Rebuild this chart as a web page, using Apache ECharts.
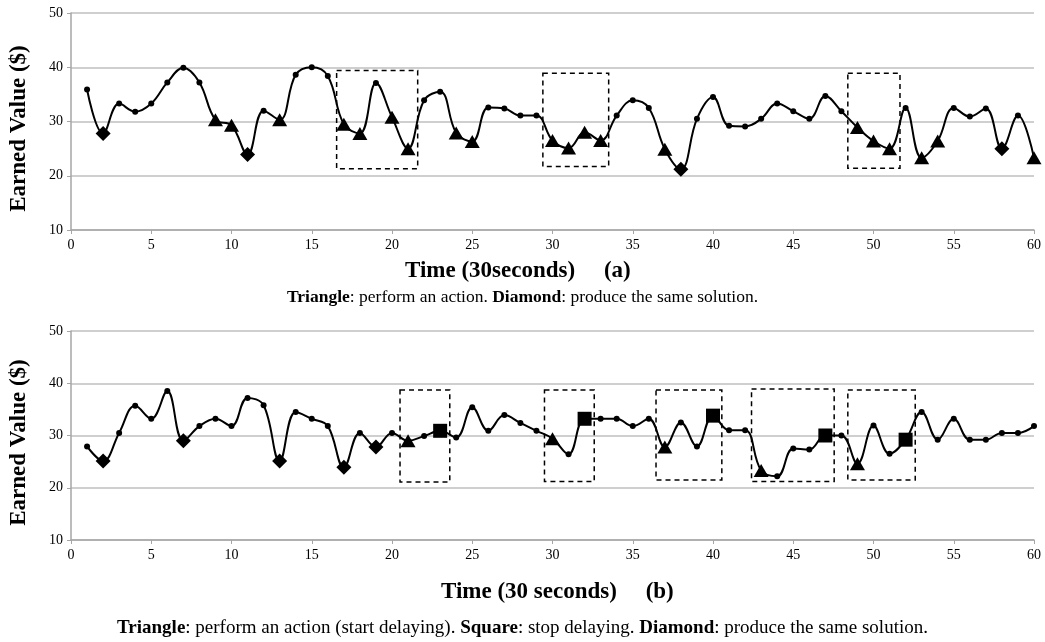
<!DOCTYPE html>
<html>
<head>
<meta charset="utf-8">
<script src="https://cdn.jsdelivr.net/npm/echarts@6/dist/echarts.min.js"></script>
<style>
  html, body { margin: 0; padding: 0; background: #fff; }
  #chart { width: 1045px; height: 642px; }
</style>
</head>
<body>
<div id="chart"></div>
<script>
// 数据 (a)
const timeA = [1,2,3,4,5,6,7,8,9,10,11,12,13,14,15,16,17,18,19,20,21,22,23,24,25,26,27,28,29,30,
  31,32,33,34,35,36,37,38,39,40,41,42,43,44,45,46,47,48,49,50,51,52,53,54,55,56,57,58,59,60]
const valueA = [35.9,27.8,33.3,31.8,33.3,37.2,39.9,37.2,30.3,29.3,23.9,32.0,30.3,38.6,40.0,38.4,29.5,27.8,37.1,30.8,
  25.0,33.9,35.5,27.9,26.3,32.6,32.4,31.1,31.1,26.5,25.1,28.0,26.5,31.1,33.9,32.5,24.9,21.2,30.5,34.5,
  29.2,29.1,30.5,33.3,31.9,30.5,34.7,31.9,28.9,26.4,25.0,32.5,23.3,26.4,32.5,30.9,32.4,25.0,31.1,23.3]
// c = 点, t = 三角, d = 菱形, s = 方块
const markA = ['c','d','c','c','c','c','c','c','t','t','d','c','t','c','c','c','t','t','c','t',
  't','c','c','t','t','c','c','c','c','t','t','t','t','c','c','c','t','d','c','c',
  'c','c','c','c','c','c','c','c','t','t','t','c','t','t','c','c','c','d','c','t']
// 虚线框 [x1, y1, x2, y2]
const boxesA = [[16.55,39.4,21.6,21.3],[29.4,38.9,33.5,21.7],[48.4,38.9,51.65,21.4]]

// 数据 (b)
const timeB = timeA
const valueB = [27.9,25.1,30.5,35.7,33.2,38.5,29.0,31.8,33.2,31.8,37.2,35.8,25.1,34.5,33.2,31.8,23.9,30.5,27.8,30.5,
  29.0,29.9,30.9,29.6,35.4,30.9,33.9,32.4,30.9,29.4,26.4,33.2,33.2,33.2,31.8,33.2,27.8,32.5,27.9,33.8,
  31.0,31.0,23.3,22.2,27.5,27.3,30.0,30.0,24.6,31.9,26.5,29.2,34.5,29.2,33.2,29.2,29.2,30.5,30.5,31.8]
const markB = ['c','d','c','c','c','c','d','c','c','c','c','c','d','c','c','c','d','c','d','c',
  't','c','s','c','c','c','c','c','c','t','c','s','c','c','c','c','t','c','c','s',
  'c','c','t','c','c','c','s','c','t','c','c','s','c','c','c','c','c','c','c','c']
const boxesB = [[20.5,38.7,23.6,21.1],[29.5,38.7,32.6,21.2],[36.45,38.7,40.55,21.5],[42.4,38.9,47.55,21.2],[48.4,38.7,52.6,21.5]]

const xTicks = { min: 0, max: 60, interval: 5 }
const yTicks = { min: 10, max: 50, interval: 10 }

const symbolMap = {
  c: { symbol: 'circle', symbolSize: 6 },
  t: { symbol: 'triangle', symbolSize: [15, 13] },
  d: { symbol: 'diamond', symbolSize: [15, 15] },
  s: { symbol: 'rect', symbolSize: [14, 14] }
}

const font = '"Liberation Serif", "Times New Roman", serif'

function buildData(times, values, marks) {
  return times.map((t, i) => Object.assign({ value: [t, values[i]] }, symbolMap[marks[i]]))
}

function buildBoxes(boxes) {
  return boxes.map(b => [{ coord: [b[0], b[1]] }, { coord: [b[2], b[3]] }])
}

function makeXAxis(idx) {
  return {
    type: 'value',
    gridIndex: idx,
    min: xTicks.min,
    max: xTicks.max,
    interval: xTicks.interval,
    axisLine: { show: true, lineStyle: { color: '#a6a6a6', width: 1.5 } },
    axisTick: { show: true, length: 4, lineStyle: { color: '#a6a6a6' } },
    axisLabel: { fontFamily: font, fontSize: 14, color: '#000', margin: 8 },
    splitLine: { show: false }
  }
}

function makeYAxis(idx) {
  return {
    type: 'value',
    gridIndex: idx,
    min: yTicks.min,
    max: yTicks.max,
    interval: yTicks.interval,
    name: 'Earned Value ($)',
    nameLocation: 'middle',
    nameGap: 40,
    nameTextStyle: { fontFamily: font, fontWeight: 'bold', fontSize: 23, color: '#000', padding: [0, 0, 0, -14] },
    axisLine: { show: true, lineStyle: { color: '#a6a6a6', width: 1.5 } },
    axisTick: { show: true, length: 4, lineStyle: { color: '#a6a6a6' } },
    axisLabel: { fontFamily: font, fontSize: 14, color: '#000', margin: 8 },
    splitLine: { show: true, lineStyle: { color: '#bfbfbf', width: 1.5 } }
  }
}

function makeSeries(idx, times, values, marks, boxes) {
  return {
    type: 'line',
    xAxisIndex: idx,
    yAxisIndex: idx,
    smooth: 0.4,
    data: buildData(times, values, marks),
    lineStyle: { color: '#000', width: 2 },
    itemStyle: { color: '#000' },
    showAllSymbol: true,
    z: 3,
    markArea: {
      silent: true,
      itemStyle: { color: 'rgba(0,0,0,0)', borderColor: '#000', borderWidth: 1.5, borderType: [5, 4] },
      data: buildBoxes(boxes)
    }
  }
}

function caption(text, left, top, size) {
  return {
    text: text,
    left: left,
    top: top,
    textStyle: {
      fontFamily: font, fontSize: size, fontWeight: 'normal', color: '#000',
      rich: { b: { fontFamily: font, fontSize: size, fontWeight: 'bold', color: '#000' } }
    }
  }
}

function axisTitle(text, left, top) {
  return {
    text: text,
    left: left,
    top: top,
    textStyle: { fontFamily: font, fontSize: 23, fontWeight: 'bold', color: '#000' }
  }
}

const myChart = echarts.init(document.querySelector('#chart'))
const option = {
  animation: false,
  backgroundColor: '#fff',
  grid: [
    { left: 70, right: 11, top: 13, height: 217 },
    { left: 70, right: 11, top: 331, height: 209 }
  ],
  xAxis: [makeXAxis(0), makeXAxis(1)],
  yAxis: [makeYAxis(0), makeYAxis(1)],
  title: [
    axisTitle('Time (30seconds)     (a)', 400, 255),
    caption('{b|Triangle}: perform an action. {b|Diamond}: produce the same solution.', 'center', 283, 17.5),
    axisTitle('Time (30 seconds)     (b)', 436, 576),
    caption('{b|Triangle}: perform an action (start delaying). {b|Square}: stop delaying. {b|Diamond}: produce the same solution.', 'center', 614, 19)
  ],
  series: [
    makeSeries(0, timeA, valueA, markA, boxesA),
    makeSeries(1, timeB, valueB, markB, boxesB)
  ]
}
myChart.setOption(option)
</script>
</body>
</html>
